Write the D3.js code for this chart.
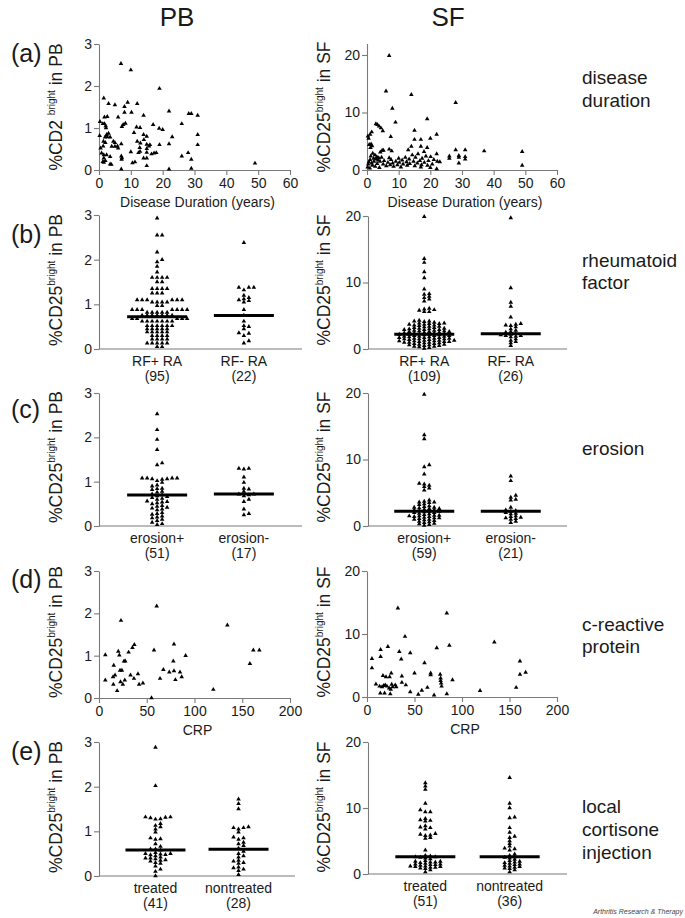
<!DOCTYPE html>
<html><head><meta charset="utf-8">
<script src="https://cdn.jsdelivr.net/npm/d3@7"></script>
<style>
body{margin:0;background:#fff}
text{font-family:"Liberation Sans",Arial,Helvetica,sans-serif;fill:#1a1a1a}
</style>
</head><body>
<svg id="chart" width="685" height="918"></svg>
<script>
// ---------------- DATA ----------------
const columnHeaders = ["PB", "SF"];
const rowLabels = ["(a)", "(b)", "(c)", "(d)", "(e)"];
const sideLabels = [["disease", "duration"], ["rheumatoid", "factor"], ["erosion"], ["c-reactive", "protein"], ["local", "cortisone", "injection"]];
const yTicksPB = [0, 1, 2, 3];
const yTicksSF = [0, 10, 20];
const durationTicks = [0, 10, 20, 30, 40, 50, 60];
const crpTicks = [0, 50, 100, 150, 200];

// (a) disease duration [years, %CD25bright]
const durationPB = [[6.9,2.53],[10,2.38],[19,1.94],[1.5,1.71],[3,1.58],[5,1.55],[9,1.61],[8,1.51],[12,1.58],[10.2,1.37],[8,1.37],[22,1.4],[6,1.26],[14,1.3],[1.7,1.26],[2.6,1.27],[28.2,1.34],[29,1.34],[31,1.3],[0.3,1.15],[1.2,1.1],[1.7,1.1],[2.1,1.05],[7.6,1.08],[7.2,1.03],[8.3,1.11],[11.8,1.02],[12.9,1.01],[17,1.08],[18.9,0.99],[20,0.96],[26,1.1],[11,0.89],[14,0.84],[15,0.8],[23,0.79],[31,0.84],[0.2,0.82],[3,0.87],[2.4,0.84],[2.2,1.0],[1.9,0.78],[2.6,0.79],[3.5,0.78],[1.4,0.68],[2,0.65],[4.5,0.68],[5,0.65],[5,0.56],[4,0.56],[5.8,0.57],[6,0.52],[1.3,0.57],[0.5,0.52],[7,0.62],[10,0.43],[12,0.68],[13,0.64],[12.8,0.53],[14.1,0.72],[15,0.61],[15.7,0.57],[15,0.51],[16,0.6],[19,0.6],[22,0.62],[31,0.6],[0.8,0.4],[1.5,0.36],[2.4,0.36],[3.5,0.32],[7,0.33],[7.2,0.29],[7.1,0.25],[12.4,0.41],[12.9,0.44],[15,0.42],[16.5,0.38],[17.3,0.4],[18,0.41],[26,0.33],[28,0.41],[1.5,0.28],[2,0.22],[1.2,0.2],[1.5,0.18],[3.5,0.14],[3.9,0.13],[10.5,0.17],[11.3,0.19],[14,0.28],[15,0.28],[15,0.1],[7,0.02],[22,0.02],[29,0.25],[29,0.04],[49,0.16]];
const durationSF = [[7,19.9],[6,13.7],[14,13.1],[28,11.7],[8,10.7],[9,8.3],[19,8.9],[2.8,8.0],[3.3,7.9],[3.8,7.6],[4.4,7.3],[5,6.8],[1.5,6.6],[1.0,6.2],[0.3,5.9],[0.5,5.5],[7.5,5.8],[15,6.9],[22,6.2],[20,5.5],[15,5.3],[17,5.3],[0.7,4.4],[1.3,4.5],[1.6,4.2],[1.1,3.9],[14,4.1],[17,4.1],[19,3.9],[13,3.5],[7,3.6],[7.8,3.3],[4.8,3.4],[4.2,3.1],[5.2,3.4],[18,3.2],[28,3.5],[31,3.5],[37,3.3],[49,3.2],[26,2.4],[26,2.0],[29,2.5],[29,2.2],[31,2.3],[31,1.9],[29,1.2],[49,0.8],[22,0.2],[20,0.4],[17,0.5],[0.2,0.5],[0.4,1.0],[0.6,1.4],[0.9,0.3],[1.0,1.8],[1.2,2.4],[1.5,1.2],[1.7,0.8],[1.8,2.9],[2.1,2.0],[2.2,1.5],[2.5,2.6],[2.6,0.6],[2.9,1.9],[3.1,2.3],[3.2,1.1],[3.5,1.7],[3.7,2.1],[3.9,0.4],[4.1,1.5],[4.6,2.2],[5.1,1.0],[5.4,1.6],[6.1,0.7],[6.6,1.3],[7.0,2.1],[7.3,0.9],[7.6,1.8],[8.1,1.2],[8.4,0.6],[9.1,1.5],[9.6,0.9],[10.0,2.0],[10.2,1.3],[10.7,0.5],[11.1,1.7],[11.4,1.0],[12.1,2.2],[12.5,1.4],[12.7,0.8],[13.3,1.9],[13.5,1.1],[14.3,2.6],[14.7,1.5],[15.1,0.7],[15.3,2.2],[15.9,1.2],[16.1,2.8],[16.7,1.6],[17.2,0.9],[17.4,2.0],[18.1,1.3],[18.6,2.4],[19.1,0.8],[19.4,1.6],[20.1,2.3],[20.6,1.0],[21.1,1.8],[22,2.8],[22.2,1.5],[23,1.4]];

// (b) rheumatoid factor
const rfCategories = ["RF+ RA", "RF- RA"];
const rfCountsPB = ["(95)", "(22)"];
const rfCountsSF = ["(109)", "(26)"];
const rfPosPB = [2.93,2.55,2.55,2.17,2.0,1.95,1.85,1.72,1.6,1.6,1.6,1.6,1.5,1.5,1.35,1.35,1.35,1.35,1.25,1.25,1.25,1.1,1.1,1.1,1.1,1.1,1.1,1.05,1.05,1.05,1.05,0.97,0.97,0.88,0.88,0.88,0.88,0.88,0.88,0.88,0.82,0.82,0.82,0.82,0.82,0.75,0.75,0.75,0.75,0.75,0.75,0.75,0.68,0.68,0.68,0.68,0.68,0.62,0.62,0.62,0.62,0.62,0.62,0.62,0.52,0.52,0.52,0.52,0.52,0.52,0.45,0.45,0.45,0.45,0.45,0.38,0.38,0.38,0.38,0.38,0.3,0.3,0.3,0.3,0.22,0.22,0.22,0.22,0.13,0.13,0.13,0.13,0.13,0.05,0.05];
const rfNegPB = [2.38,1.38,1.38,1.38,1.32,1.2,1.15,1.12,1.1,1.08,1.05,0.88,0.75,0.62,0.52,0.5,0.45,0.36,0.35,0.3,0.18,0.13];
const rfPosSF = [19.9,13.6,13.0,11.6,10.7,9.0,8.3,8.2,7.9,7.7,7.5,7.2,6.1,6.0,5.9,5.8,5.6,5.6,4.3,4.2,4.2,4.1,4.0,3.9,3.9,3.8,3.8,3.7,3.7,3.6,3.5,3.4,3.3,3.2,3.2,3.1,3.0,3.0,2.9,2.9,2.8,2.8,2.7,2.6,2.6,2.5,2.5,2.4,2.4,2.3,2.3,2.2,2.2,2.1,2.1,2.0,2.0,1.9,1.9,1.8,1.8,1.7,1.7,1.6,1.6,1.5,1.5,1.4,1.4,1.3,1.3,1.2,1.2,1.1,1.1,1.0,1.0,0.9,0.9,0.8,0.8,0.7,0.7,0.6,0.6,0.5,0.5,0.4,0.4,0.3,0.2,2.9,2.7,2.4,2.2,2.0,1.9,1.7,1.6,1.5,1.3,1.2,1.1,1.0,3.6,3.4,3.1,2.6,0.1];
const rfNegSF = [19.7,9.2,7.0,6.4,4.8,3.7,3.6,3.5,3.8,3.3,3.0,2.8,2.6,2.5,2.3,2.2,2.1,2.0,2.0,1.9,1.8,1.5,1.3,1.1,0.9,0.5];
const rfMediansPB = [0.72, 0.75];
const rfMediansSF = [2.2, 2.3];

// (c) erosion
const erosionCategories = ["erosion+", "erosion-"];
const erosionCountsPB = ["(51)", "(17)"];
const erosionCountsSF = ["(59)", "(21)"];
const erosionPosPB = [2.53,2.17,1.95,1.72,1.42,1.38,1.08,1.08,1.08,1.08,1.06,1.06,1.05,1.02,0.98,0.92,0.9,0.85,0.84,0.82,0.78,0.76,0.72,0.7,0.68,0.66,0.64,0.62,0.6,0.56,0.55,0.54,0.52,0.5,0.46,0.44,0.42,0.4,0.38,0.36,0.3,0.28,0.26,0.22,0.2,0.18,0.15,0.12,0.08,0.05,0.03];
const erosionNegPB = [1.3,1.3,1.28,1.1,0.98,0.85,0.83,0.78,0.72,0.72,0.7,0.68,0.6,0.55,0.38,0.28,0.25];
const erosionPosSF = [19.8,13.7,13.1,9.2,8.9,7.8,6.4,6.3,6.1,5.9,5.7,5.4,3.9,3.7,3.6,3.6,3.5,3.3,3.2,3.0,2.9,2.8,2.8,2.7,2.6,2.6,2.5,2.4,2.4,2.3,2.2,2.2,2.1,2.0,2.0,1.9,1.8,1.7,1.6,1.6,1.5,1.5,1.4,1.4,1.3,1.2,1.2,1.1,1.0,1.0,0.9,0.8,0.7,0.6,0.5,0.4,0.3,0.2,0.1];
const erosionNegSF = [7.5,6.8,4.6,4.3,4.0,3.9,2.8,2.4,2.3,2.2,2.0,1.9,1.8,1.5,1.4,1.3,1.2,1.1,1.0,0.7,0.5];
const erosionMediansPB = [0.7, 0.72];
const erosionMediansSF = [2.2, 2.2];

// (d) c-reactive protein [CRP, %CD25bright]
const crpPB = [[6.6,1.02],[6.6,0.42],[23,1.83],[15.4,0.77],[14.7,0.5],[16.8,0.54],[15,0.32],[20.2,1.1],[21.3,1.01],[19,0.17],[22,0.65],[24,0.65],[22.5,0.38],[25,0.32],[26.2,0.87],[27.5,0.87],[27,0.42],[31,1.08],[35,1.19],[37,1.26],[33,0.54],[36.6,0.46],[40.8,0.57],[42,0.32],[46,0.35],[55,0.0],[60.4,2.17],[57.6,1.13],[63.9,0.46],[67.4,0.67],[73.6,0.61],[77.8,0.87],[78.5,1.27],[78.5,0.64],[80,0.43],[84.8,0.61],[86.6,0.5],[90.7,1.0],[119.7,0.2],[134.4,1.72],[158,0.81],[161.6,1.13],[167.9,1.13]];
const crpSF = [[32.5,14.1],[84,13.3],[134,8.7],[40,9.6],[14.3,7.5],[14.3,6.4],[22,8.0],[34,7.2],[45.5,7.0],[73.4,7.8],[86.7,8.2],[5.2,6.1],[5.2,4.6],[36,6.0],[60.5,5.4],[50,3.8],[67,3.8],[67,3.5],[77,3.6],[77.5,3.0],[77.5,2.6],[78,2.2],[78.5,1.7],[90,2.7],[161,3.6],[167,3.9],[161,5.7],[157,1.5],[9.4,2.05],[16.8,3.4],[20,3.2],[23.8,3.2],[25.5,3.8],[13.3,1.7],[15.8,1.6],[17.5,1.8],[19.2,1.9],[21,1.7],[23.3,1.4],[25,1.2],[26,2.0],[27,1.6],[14,0.6],[18.5,0.6],[24.5,0.5],[36.7,3.3],[36.7,2.3],[40.9,1.9],[45.5,0.8],[54,0.4],[57.7,1.05],[63.6,1.5],[70.6,0.3],[84,0.5],[119,1.0],[29.7,1.9],[30.8,1.6]];

// (e) local cortisone injection
const injCategories = ["treated", "nontreated"];
const injCountsPB = ["(41)", "(28)"];
const injCountsSF = ["(51)", "(36)"];
const treatedPB = [2.88,2.02,1.32,1.32,1.31,1.3,1.28,1.27,1.17,1.13,1.1,1.05,0.98,0.85,0.83,0.82,0.72,0.66,0.6,0.6,0.58,0.52,0.5,0.5,0.49,0.48,0.47,0.45,0.42,0.4,0.4,0.38,0.36,0.35,0.33,0.3,0.28,0.22,0.15,0.1,0.0];
const nontreatedPB = [1.72,1.62,1.5,1.1,1.08,1.08,1.05,0.98,0.87,0.85,0.82,0.75,0.72,0.68,0.62,0.55,0.5,0.45,0.42,0.35,0.33,0.3,0.28,0.2,0.18,0.15,0.12,0.03];
const treatedSF = [13.8,13.3,12.8,10.7,9.7,9.4,9.4,8.4,8.2,8.1,8.0,7.3,7.1,7.0,6.8,6.1,6.0,5.9,5.8,5.5,5.4,3.6,2.8,2.7,2.6,2.6,2.5,2.4,2.3,2.0,1.9,1.9,1.8,1.8,1.7,1.6,1.5,1.5,1.4,1.4,1.3,1.2,1.2,1.1,1.1,1.0,1.0,0.9,0.8,0.6,0.3];
const nontreatedSF = [14.6,10.7,10.0,8.6,8.5,7.0,6.3,5.7,5.5,5.0,4.6,4.2,3.9,3.8,3.6,3.0,2.8,2.6,2.5,2.4,2.2,2.0,1.9,1.8,1.7,1.6,1.5,1.4,1.3,1.2,1.1,1.0,0.9,0.8,0.6,0.3];
const injMediansPB = [0.58, 0.6];
const injMediansSF = [2.6, 2.6];

// ---------------- DRAWING ----------------
const svg = d3.select("#chart");
const AXIS = "#7a7a7a";
const tri = d3.symbol().type(d3.symbolTriangle).size(9);

function styleAxis(g) {
  g.selectAll("path.domain").attr("stroke", AXIS).attr("stroke-width", 1.1);
  g.selectAll(".tick line").attr("stroke", AXIS).attr("stroke-width", 1.1);
  g.selectAll(".tick text").attr("fill", "#1a1a1a").style("font-size", "14px")
    .style("font-family", '"Liberation Sans",Arial,sans-serif');
}

function yTitle(cx, cy, first) {
  const t = svg.append("text").attr("transform", `translate(${cx},${cy}) rotate(-90)`)
    .attr("text-anchor", "middle").style("font-size", "17.5px");
  t.append("tspan").text(first);
  t.append("tspan").attr("dy", -7).style("font-size", "10px").text("bright");
  t.append("tspan").attr("dy", 7).text(" in " + (cx < 200 ? "PB" : "SF"));
}

function yAxis(x0, y) {
  const g = svg.append("g").attr("transform", `translate(${x0},0)`)
    .call(d3.axisLeft(y).tickValues(y.domain()[1] > 5 ? yTicksSF : yTicksPB).tickSize(5).tickSizeOuter(0).tickPadding(2).tickFormat(d3.format("d")));
  styleAxis(g);
}

function scatterPanel(p) {
  const x = d3.scaleLinear().domain(p.xDomain).range([p.x0, p.x1]);
  const y = d3.scaleLinear().domain(p.yDomain).range([p.y0, p.yTop]);
  const gx = svg.append("g").attr("transform", `translate(0,${p.y0})`)
    .call(d3.axisBottom(x).tickValues(p.xTicks).tickSize(5).tickSizeOuter(0).tickPadding(3));
  styleAxis(gx);
  yAxis(p.x0, y);
  svg.append("g").selectAll("path").data(p.data).join("path")
    .attr("d", tri).attr("fill", "#000")
    .attr("transform", d => `translate(${x(d[0])},${y(d[1])})`);
  svg.append("text").attr("x", (p.x0 + p.x1) / 2 + 3).attr("y", p.y0 + 36.5)
    .attr("text-anchor", "middle").style("font-size", "14px").text(p.xTitle);
}

function swarm(vals, y, cx, dyMin) {
  const pts = vals.map(v => ({ v, y: y(v) })).sort((a, b) => a.v - b.v);
  const placed = [];
  const step = 2.5;
  pts.forEach(p => {
    for (let i = 0; i < 200; i++) {
      const k = i === 0 ? 0 : (i % 2 ? (i + 1) / 2 : -i / 2);
      const xx = cx + k * step;
      if (!placed.some(q => Math.abs(q.x - xx) < 5 && Math.abs(q.y - p.y) < dyMin)) {
        p.x = xx; placed.push(p); break;
      }
    }
  });
  return placed;
}

function categoryPanel(p) {
  const y = d3.scaleLinear().domain(p.yDomain).range([p.y0, p.yTop]);
  const x = d3.scalePoint().domain(p.categories).range([p.x0, p.x1]).padding(p.pad);
  svg.append("line").attr("x1", p.x0).attr("x2", p.x1).attr("y1", p.y0).attr("y2", p.y0)
    .attr("stroke", AXIS).attr("stroke-width", 1.1);
  yAxis(p.x0, y);
  const dyMin = p.yDomain[1] > 5 ? 2.3 : 3.1;
  p.groups.forEach((vals, i) => {
    const cx = x(p.categories[i]);
    const pts = swarm(vals, y, cx, dyMin);
    svg.append("g").selectAll("path").data(pts).join("path")
      .attr("d", tri).attr("fill", "#000")
      .attr("transform", d => `translate(${d.x},${d.y})`);
    svg.append("line").attr("x1", cx - 30).attr("x2", cx + 30)
      .attr("y1", y(p.medians[i])).attr("y2", y(p.medians[i]))
      .attr("stroke", "#000").attr("stroke-width", 3);
    svg.append("text").attr("x", cx).attr("y", p.y0 + 16.5).attr("text-anchor", "middle")
      .style("font-size", "14px").text(p.categories[i]);
    svg.append("text").attr("x", cx).attr("y", p.y0 + 31.5).attr("text-anchor", "middle")
      .style("font-size", "14px").text(p.counts[i]);
  });
}

// headers
svg.append("text").attr("x", 177).attr("y", 26).attr("text-anchor", "middle").style("font-size", "26px").text(columnHeaders[0]);
svg.append("text").attr("x", 448).attr("y", 26).attr("text-anchor", "middle").style("font-size", "26px").text(columnHeaders[1]);

// row labels
const rowBaselines = [62, 243, 418, 588, 760];
rowLabels.forEach((l, i) => svg.append("text").attr("x", 11).attr("y", rowBaselines[i]).style("font-size", "25px").text(l));

// side labels
const sideBaselines = [[84, 107], [267, 289], [455], [631, 653], [813, 836, 859]];
sideLabels.forEach((lines, i) => lines.forEach((s, j) =>
  svg.append("text").attr("x", 582).attr("y", sideBaselines[i][j]).style("font-size", "19px").text(s)));

// Row (a)
scatterPanel({ x0: 99, x1: 290, y0: 170, yTop: 44, xDomain: [0, 60], yDomain: [0, 3], xTicks: durationTicks, data: durationPB, xTitle: "Disease Duration (years)" });
scatterPanel({ x0: 367, x1: 557, y0: 170, yTop: 43.5, xDomain: [0, 60], yDomain: [0, 22], xTicks: durationTicks, data: durationSF, xTitle: "Disease Duration (years)" });
yTitle(62, 107, "%CD2 ");
yTitle(330, 107, "%CD25");

// Row (b)
categoryPanel({ x0: 99, x1: 302, y0: 349, yTop: 215, yDomain: [0, 3], pad: 0.67, categories: rfCategories, groups: [rfPosPB, rfNegPB], medians: rfMediansPB, counts: rfCountsPB });
categoryPanel({ x0: 368, x1: 567, y0: 349, yTop: 216, yDomain: [0, 20], pad: 0.65, categories: rfCategories, groups: [rfPosSF, rfNegSF], medians: rfMediansSF, counts: rfCountsSF });
yTitle(62, 280, "%CD25");
yTitle(330, 280, "%CD25");

// Row (c)
categoryPanel({ x0: 99, x1: 302, y0: 526, yTop: 393, yDomain: [0, 3], pad: 0.67, categories: erosionCategories, groups: [erosionPosPB, erosionNegPB], medians: erosionMediansPB, counts: erosionCountsPB });
categoryPanel({ x0: 368, x1: 567, y0: 526, yTop: 393, yDomain: [0, 20], pad: 0.65, categories: erosionCategories, groups: [erosionPosSF, erosionNegSF], medians: erosionMediansSF, counts: erosionCountsSF });
yTitle(62, 457, "%CD25");
yTitle(330, 457, "%CD25");

// Row (d)
scatterPanel({ x0: 99, x1: 290, y0: 698, yTop: 571, xDomain: [0, 200], yDomain: [0, 3], xTicks: crpTicks, data: crpPB, xTitle: "CRP" });
scatterPanel({ x0: 367, x1: 557, y0: 697, yTop: 571, xDomain: [0, 200], yDomain: [0, 20], xTicks: crpTicks, data: crpSF, xTitle: "CRP" });
yTitle(62, 632, "%CD25");
yTitle(330, 632, "%CD25");

// Row (e)
categoryPanel({ x0: 99, x1: 295, y0: 876, yTop: 742, yDomain: [0, 3], pad: 0.68, categories: injCategories, groups: [treatedPB, nontreatedPB], medians: injMediansPB, counts: injCountsPB });
categoryPanel({ x0: 368, x1: 567, y0: 874, yTop: 742, yDomain: [0, 20], pad: 0.68, categories: injCategories, groups: [treatedSF, nontreatedSF], medians: injMediansSF, counts: injCountsSF });
yTitle(62, 807, "%CD25");
yTitle(330, 807, "%CD25");

// footer
svg.append("text").attr("x", 683).attr("y", 914).attr("text-anchor", "end")
  .style("font-size", "7px").style("font-style", "italic").style("fill", "#444")
  .text("Arthritis Research & Therapy");
</script>
</body></html>
